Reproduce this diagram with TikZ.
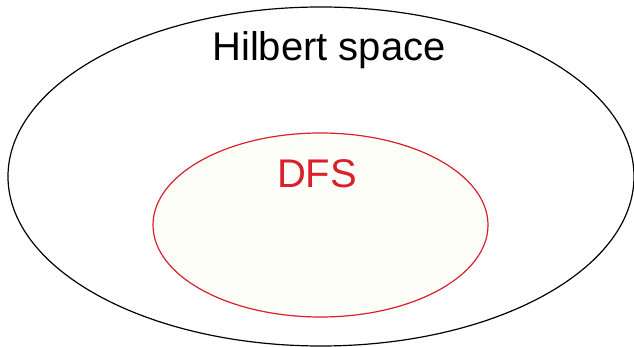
\documentclass[tikz,border=0pt]{standalone}
\usepackage{fontspec}
\setmainfont{Liberation Sans}
\definecolor{dfsred}{RGB}{218,32,44}
\definecolor{dfsfill}{RGB}{254,254,248}
\tikzset{
  setline/.style={line width=1.2pt},
  label/.style={inner sep=0pt, anchor=base, font=\fontsize{40}{44}\selectfont}
}
\begin{document}
\begin{tikzpicture}[x=1pt,y=1pt]
\useasboundingbox (0,0) rectangle (634,347);
\fill[white] (0,0) rectangle (634,347);
\draw[setline, black] (321,170.5) ellipse [x radius=313, y radius=169.5];
\draw[setline, dfsred, fill=dfsfill] (320.5,122) ellipse [x radius=167.5, y radius=92];
\node[label, text=black] (hs) at (329,286) {Hilbert space};
\node[label, text=dfsred] (dfs) at (317,159) {DFS};
\end{tikzpicture}
\end{document}
